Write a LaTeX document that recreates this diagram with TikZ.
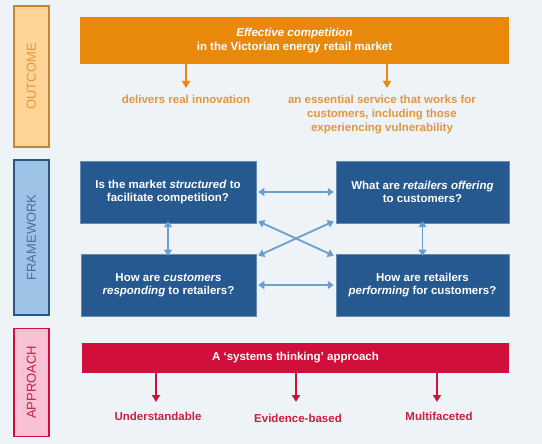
\documentclass[tikz,border=0pt]{standalone}
\usepackage{fontspec}
\setmainfont{Liberation Sans}
\usetikzlibrary{arrows.meta}
\definecolor{bg}{HTML}{EEF3F8}
\definecolor{orng}{HTML}{E8890C}
\definecolor{orngtxt}{HTML}{E3973A}
\definecolor{orngfill}{HTML}{FFD597}
\definecolor{orngline}{HTML}{C8872E}
\definecolor{bluebox}{HTML}{25598F}
\definecolor{bluearrow}{HTML}{6A9FD0}
\definecolor{bluefill}{HTML}{9DC3E6}
\definecolor{blueline}{HTML}{2B5582}
\definecolor{bluetxt}{HTML}{4A6F98}
\definecolor{crim}{HTML}{D0103A}
\definecolor{crimtxt}{HTML}{C8203F}
\definecolor{pinkfill}{HTML}{F8C2D4}
\tikzset{
  sidebox/.style={draw, line width=1.2pt, minimum width=35pt, inner sep=0pt},
  sidelabel/.style={rotate=90, font=\fontsize{13}{15}\selectfont},
  banner/.style={inner sep=0pt, font=\bfseries\fontsize{11.5}{14}\selectfont, text=white, align=center},
  qbox/.style={fill=bluebox, draw=bluebox!70!white, line width=0.5pt, inner sep=0pt, minimum height=62pt,
    font=\bfseries\fontsize{11.5}{13.5}\selectfont, text=white, align=center},
  otext/.style={font=\bfseries\fontsize{11.5}{14}\selectfont, text=orngtxt, align=center},
  atext/.style={font=\bfseries\fontsize{11.5}{14}\selectfont, text=crimtxt, align=center},
  oarrow/.style={draw=orng, line width=1.8pt, -{Triangle[width=8pt,length=7pt]}},
  carrow/.style={draw=crim, line width=1.8pt, -{Triangle[width=8pt,length=7pt]}},
  barrow/.style={draw=bluearrow, line width=1.8pt, {Triangle[width=8pt,length=6pt]}-{Triangle[width=8pt,length=6pt]}},
}
\begin{document}
\begin{tikzpicture}[x=1pt,y=-1pt]
\fill[bg] (0,0) rectangle (542,444);
\useasboundingbox (0,0) rectangle (542,444);
% OUTCOME
\node[sidebox, fill=orngfill, draw=orngline, minimum height=141pt] (so) at (31.5,76.5) {};
\node[sidelabel, text=orngtxt] (sol) at (31.5,76.5) {OUTCOME};
\node[banner, fill=orng, minimum width=429pt, minimum height=47pt] (ob) at (294.5,40.5)
  {\itshape Effective competition\\in the Victorian energy retail market};
\coordinate (oa1) at (186,88);
\coordinate (oa2) at (387,88);
\draw[oarrow] (186,64) -- (oa1);
\draw[oarrow] (387,64) -- (oa2);
\node[otext, anchor=north] (ot1) at (186,92) {delivers real innovation};
\node[otext, anchor=north] (ot2) at (382,92) {an essential service that works for\\customers, including those\\experiencing vulnerability};
% FRAMEWORK
\node[sidebox, fill=bluefill, draw=blueline, minimum height=155pt] (sf) at (31.5,237.5) {};
\node[sidelabel, text=bluetxt] (sfl) at (31.5,237.5) {FRAMEWORK};
\node[qbox, minimum width=176pt] (tl) at (168,192) {Is the market \textit{structured} to\\facilitate competition?};
\node[qbox, minimum width=173pt] (tr) at (422.5,192) {What are \textit{retailers offering}\\to customers?};
\node[qbox, minimum width=175pt] (bl) at (168.5,285) {How are \textit{customers}\\\textit{responding} to retailers?};
\node[qbox, minimum width=173pt] (br) at (422.5,285) {How are retailers\\\textit{performing} for customers?};
\draw[barrow] ([xshift=2pt]tl.east) -- ([xshift=-2pt]tr.west);
\draw[barrow] ([xshift=2pt]bl.east) -- ([xshift=-2pt]br.west);
\draw[barrow] ([yshift=2pt]tl.south) -- ([yshift=-2pt]tl.south |- bl.north);
\draw[barrow] ([yshift=2pt]tr.south) -- ([yshift=-2pt]tr.south |- br.north);
\draw[barrow] ([shift={(2pt,2pt)}]tl.south east) -- ([shift={(-2pt,-2pt)}]br.north west);
\draw[barrow] ([shift={(-2pt,2pt)}]tr.south west) -- ([shift={(2pt,-2pt)}]bl.north east);
% APPROACH
\node[sidebox, fill=pinkfill, draw=crim, minimum height=108pt] (sa) at (31.5,382.5) {};
\node[sidelabel, text=crimtxt] (sal) at (31.5,382.5) {APPROACH};
\node[banner, fill=crim, minimum width=427pt, minimum height=30pt] (ab) at (295.5,358) {A ‘systems thinking’ approach};
\coordinate (aa1) at (156,402);
\coordinate (aa2) at (296,402);
\coordinate (aa3) at (437,402);
\draw[carrow] (156,373) -- (aa1);
\draw[carrow] (296,373) -- (aa2);
\draw[carrow] (437,373) -- (aa3);
\node[atext] (at1) at (158,416) {Understandable};
\node[atext] (at2) at (298,418) {Evidence-based};
\node[atext] (at3) at (439,416) {Multifaceted};
\end{tikzpicture}
\end{document}
